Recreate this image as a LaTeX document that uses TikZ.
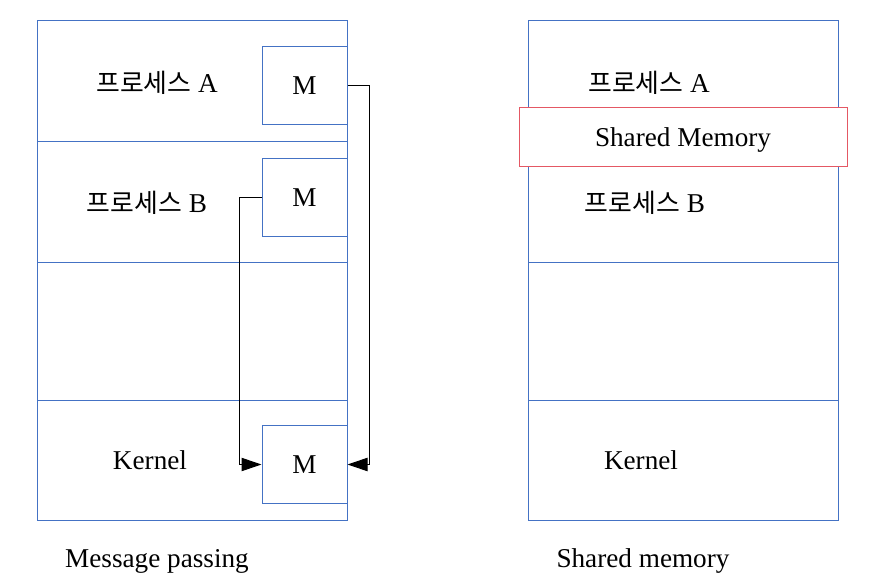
\documentclass[tikz,border=0pt]{standalone}
\usepackage{fontspec}
\setmainfont{Liberation Serif}
\newfontfamily\kr{Noto Sans CJK KR}[Scale=0.95]
\usetikzlibrary{arrows.meta}
\usetikzlibrary{positioning}
\definecolor{frameblue}{RGB}{68,114,196}
\definecolor{shmred}{RGB}{228,88,100}

\begin{document}
\begin{tikzpicture}[x=0.75pt, y=-0.75pt, line width=0.75pt,
	>={Triangle[length=15pt, width=10pt]},
	font=\fontsize{20.4}{24}\selectfont,
	part/.style={draw=frameblue},
	msg/.style={rectangle, draw=frameblue, fill=white, minimum width=63.75pt, minimum height=58.5pt, inner sep=0pt},
	shm/.style={rectangle, draw=shmred, fill=white, minimum width=246pt, minimum height=44.25pt, inner sep=0pt},
	lbl/.style={inner sep=0pt, anchor=base},
]
\useasboundingbox (0,0) rectangle (869,578);
% message passing
\draw [part] (37,20) rectangle (347,520);
\foreach \y in {141,262,400}
	\draw [part] (37,\y) -- (347,\y);
\node [msg] (mA) at (304.5,85)  {};
\node [msg] (mB) at (304.5,197) {};
\node [msg] (mK) at (304.5,464.5) {};
\node [lbl] at (304.5,94)  {M};
\node [lbl] at (304.5,206) {M};
\node [lbl] at (304.5,473) {M};
\node [lbl] (pA) at (157,92)  {{\kr 프로세스} A};
\node [lbl] (pB) at (147,212) {{\kr 프로세스} B};
\node [lbl] (kL) at (150,469) {Kernel};
\node [lbl] (tL) at (157,567) {Message passing};
%
\draw [->] (mA.east) -- ++(22,0) |- (mK.east);
\draw [->] (mB.west) -- ++(-22,0) |- (mK.west);
% shared memory
\draw [part] (528,20) rectangle (838,520);
\foreach \y in {262,400}
	\draw [part] (528,\y) -- (838,\y);
\node [lbl] (qA) at (649,92)  {{\kr 프로세스} A};
\node [shm] (sm) at (683,136.5) {};
\node [lbl] at (683,146) {Shared Memory};
\node [lbl] (qB) at (645,212) {{\kr 프로세스} B};
\node [lbl] (kR) at (641,469) {Kernel};
\node [lbl] (tR) at (643,567) {Shared memory};
\end{tikzpicture}
\end{document}
